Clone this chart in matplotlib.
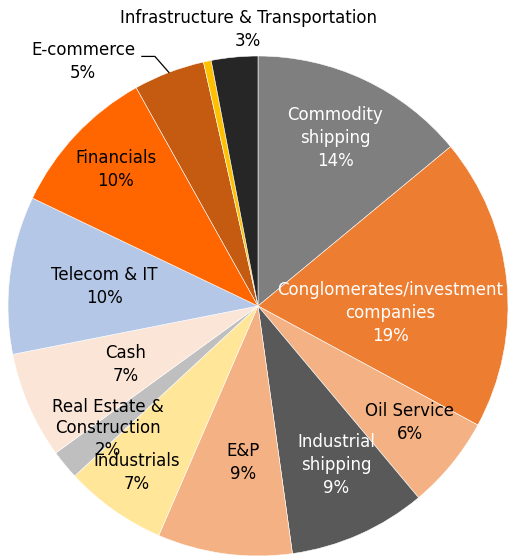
import numpy as np
import matplotlib.pyplot as plt

sectors = ['Commodity\nshipping', 'Conglomerates/investment\ncompanies', 'Oil Service',
           'Industrial\nshipping', 'E&P', 'Industrials', 'Real Estate &\nConstruction',
           'Cash', 'Telecom & IT', 'Financials', 'E-commerce', '', 'Infrastructure & Transportation']
shares = [14.0, 18.9, 6.0, 8.9, 8.7, 6.6, 1.9, 6.9, 10.2, 9.8, 4.6, 0.5, 3.0]
colors = ['#7f7f7f', '#ed7d31', '#f4b183', '#595959', '#f4b183', '#ffe699', '#bfbfbf',
          '#fbe5d6', '#b4c7e7', '#ff6600', '#c55a11', '#ffc000', '#262626']
text_colors = ['white', 'white', 'black', 'white', 'black', 'black', 'black',
               'black', 'black', 'black', 'black', 'black', 'black']
# inside label placement: radius (fraction of pie radius) and angle shift from wedge middle
label_r = [0.74, 0.53, 0.765, 0.71, 0.63, 0.825, 0.775, 0.58, 0.62, 0.79, None, None, None]
label_shift = [-0.6, 8.6, -1.6, -2.3, -2.2, 0.7, 0.3, -0.3, 0.0, 0.7, 0, 0, 0]

fig = plt.figure(figsize=(5.09, 5.56), dpi=100)
ax = fig.add_axes([8 / 509, 0, 500 / 509, 500 / 556])
wedges, _ = ax.pie(shares, colors=colors, startangle=90, counterclock=False,
                   wedgeprops=dict(edgecolor='white', linewidth=0.4))
for w in wedges:
    w.set_clip_on(False)
ax.set_xlim(-1, 1)
ax.set_ylim(-1, 1)
ax.set_aspect('equal')
ax.axis('off')

fs = 12
ls = 1.35
for i, w in enumerate(wedges):
    if label_r[i] is None:
        continue
    # pie drawn clockwise, so a positive shift (clockwise) lowers the math angle
    mid = np.deg2rad((w.theta1 + w.theta2) / 2 - label_shift[i])
    r = label_r[i]
    lsp = 1.25 if i == 6 else ls
    ax.text(r * np.cos(mid), r * np.sin(mid), f'{sectors[i]}\n{shares[i]:.0f}%',
            ha='center', va='center', fontsize=fs, color=text_colors[i], linespacing=lsp)

# E-commerce: label outside with an elbow leader line
w = wedges[10]
a = np.deg2rad((w.theta1 + w.theta2) / 2)
px, py = 1.0 * np.cos(a), 1.0 * np.sin(a)
ex, ey = px - 0.056, py + 0.064
hx = ex - 0.052
ax.plot([px, ex, hx], [py, ey, ey], color='black', lw=0.9, clip_on=False)
ax.text(hx - 0.235, ey - 0.02, f'{sectors[10]}\n{shares[10]:.0f}%', ha='center', va='center',
        fontsize=fs, linespacing=ls)

# Infrastructure & Transportation label above the pie
ax.text(-0.04, 1.105, f'{sectors[12]}\n{shares[12]:.0f}%', ha='center', va='center',
        fontsize=fs, linespacing=ls)

fig.savefig('out.png', dpi=100)
